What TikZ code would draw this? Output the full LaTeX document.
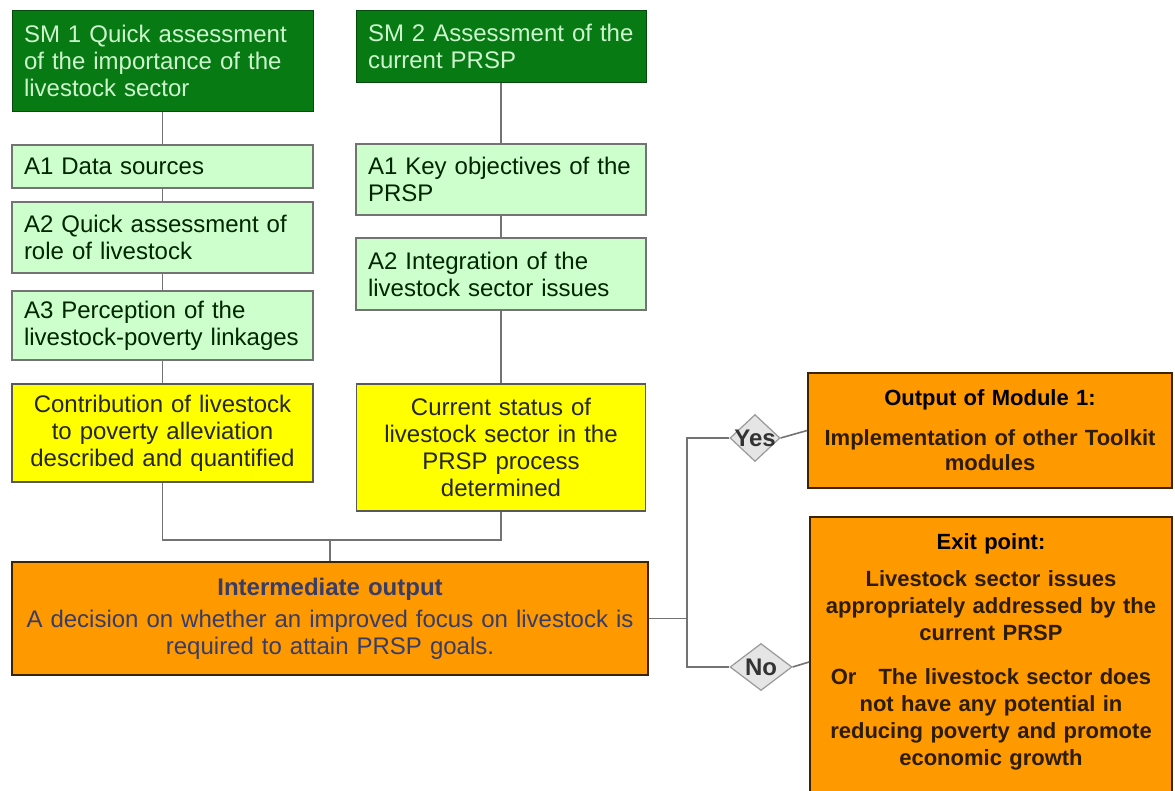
\documentclass[tikz,border=0pt]{standalone}
\usepackage{fontspec}
\setmainfont{Liberation Sans}
\usetikzlibrary{shapes.geometric}
\definecolor{hdgreen}{RGB}{8,122,20}
\definecolor{hdtext}{RGB}{205,245,205}
\definecolor{actgreen}{RGB}{204,255,204}
\definecolor{resyellow}{RGB}{255,255,0}
\definecolor{outorange}{RGB}{255,153,0}
\definecolor{outborder}{RGB}{60,36,0}
\definecolor{outtext}{RGB}{45,28,0}
\definecolor{intertext}{RGB}{55,60,105}
\definecolor{linegray}{RGB}{115,115,115}
\begin{document}
\begin{tikzpicture}[x=1pt,y=-1pt,
  every node/.style={font=\fontsize{24}{27}\selectfont, inner xsep=12pt, inner ysep=4pt},
  head/.style={draw=hdgreen!60!black, fill=hdgreen, text=hdtext, align=left, line width=1pt},
  act/.style={draw=linegray, fill=actgreen, text=black!85!green, align=left, line width=1.5pt},
  res/.style={draw=black!65, fill=resyellow, text=black!85, align=center, line width=1.5pt},
  outbox/.style={draw=outborder, fill=outorange, text=outtext, align=center, line width=1.8pt},
  dec/.style={diamond, draw=gray!80, fill=gray!20, line width=1.2pt, inner sep=0pt,
    label={[font=\fontsize{24}{26}\selectfont\bfseries, text=black!80]center:#1}},
  conn/.style={draw=linegray, line width=1.6pt}]
\useasboundingbox[fill=white] (0,0) rectangle (1175,790);
\node[head, text width=277pt, minimum height=101pt] (sm1) at (162.5,60.5) {SM 1 Quick assessment\\ of the importance of the\\ livestock sector};
\node[head, text width=266pt, minimum height=72pt] (sm2) at (501,46) {SM 2 Assessment of the\\ current PRSP};
\node[act, text width=277pt, minimum height=43pt] (a1l) at (162.5,166.5) {A1 Data sources};
\node[act, text width=277pt, minimum height=71pt] (a2l) at (162.5,237.5) {A2 Quick assessment of\\ role of livestock};
\node[act, text width=277pt, minimum height=69pt] (a3l) at (162.5,325.5) {A3 Perception of the\\ livestock-poverty linkages};
\node[act, text width=266pt, minimum height=71pt] (a1r) at (501,179.5) {A1 Key objectives of the\\ PRSP};
\node[act, text width=266pt, minimum height=72pt] (a2r) at (501,274) {A2 Integration of the\\ livestock sector issues};
\node[res, text width=277pt, minimum height=98pt] (resl) at (162.5,433) {Contribution of livestock\\ to poverty alleviation\\ described and quantified};
\node[res, text width=265pt, minimum height=127pt] (resr) at (501,447.5) {Current status of\\ livestock sector in the\\ PRSP process\\ determined};
\node[outbox, text width=612pt, minimum height=113pt, text=intertext] (inter) at (330,618.5) {\textbf{Intermediate output}\\[5pt] A decision on whether an improved focus on livestock is\\ required to attain PRSP goals.};
\node[outbox, inner xsep=4pt, text width=356pt, minimum height=115pt, font=\fontsize{22}{25}\selectfont\bfseries] (out1) at (990,430.5) {\textcolor{black}{Output of Module 1:}\\[15pt] Implementation of other Toolkit\\ modules};
\node[outbox, inner xsep=4pt, text width=354pt, minimum height=290pt, font=\fontsize{22}{27}\selectfont\bfseries] (exit) at (991,662) {\textcolor{black}{Exit point:}\\[10pt] Livestock sector issues\\ appropriately addressed by the\\ current PRSP\\[17pt] Or\quad The livestock sector does\\ not have any potential in\\ reducing poverty and promote\\ economic growth\par\vspace{20pt}};
\node[dec=Yes, minimum width=50pt, minimum height=47pt] (yes) at (755,438) {};
\node[dec=No, minimum width=62pt, minimum height=47pt] (no) at (761,667) {};
\coordinate (join) at (330,540);
\coordinate (split) at (687,618.5);
\draw[conn] (sm1) -- (a1l);
\draw[conn] (a1l) -- (a2l);
\draw[conn] (a2l) -- (a3l);
\draw[conn] (a3l) -- (resl);
\draw[conn] (sm2) -- (a1r);
\draw[conn] (a1r) -- (a2r);
\draw[conn] (a2r) -- (resr);
\draw[conn] (resl.south) |- (join) -| (resr.south);
\draw[conn] (join) -- (inter.north);
\draw[conn] (inter.east) -- (split);
\draw[conn] (yes.west) -| (split) |- (no.west);
\draw[conn] (yes.east) -- (out1.west);
\draw[conn] (no.east) -- (exit.west);
\end{tikzpicture}
\end{document}
